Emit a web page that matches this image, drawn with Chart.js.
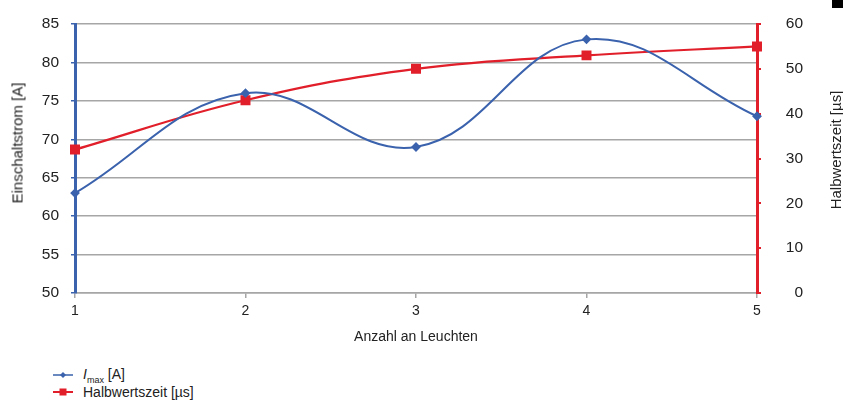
<!DOCTYPE html>
<html><head><meta charset="utf-8">
<script src="https://cdn.jsdelivr.net/npm/chart.js@4"></script>
<style>
body{margin:0;background:#fff;font-family:"Liberation Sans",Arial,sans-serif;color:#222;}
#wrap{position:relative;width:843px;height:401px;}
#cbox{position:absolute;left:0;top:0;width:843px;height:350px;}
.vt{position:absolute;transform:translate(-50%,-50%) rotate(-90deg);white-space:nowrap;font-size:15px;}
#blk{position:absolute;left:832px;top:0;width:11px;height:8px;background:#000;}
.leg{position:absolute;left:53px;font-size:14px;display:flex;align-items:center;white-space:nowrap;}
.leg svg{margin-right:10px;}
</style></head><body>
<div id="wrap">
<div id="cbox"><canvas id="c"></canvas></div>
<div class="vt" style="left:17px;top:143px">Einschaltstrom [A]</div>
<div class="vt" style="left:835px;top:150px">Halbwertszeit [µs]</div>
<div id="blk"></div>
<div class="leg" style="top:366px"><svg width="20" height="10"><line x1="0" y1="5" x2="20" y2="5" stroke="#3a62ad" stroke-width="1.5"/><polygon points="10,2 13,5 10,8 7,5" fill="#3a62ad"/></svg><span><i>I</i><sub style="font-size:9px">max</sub> [A]</span></div>
<div class="leg" style="top:384px"><svg width="20" height="10"><line x1="0" y1="5" x2="20" y2="5" stroke="#e11f2b" stroke-width="2"/><rect x="6.5" y="1.5" width="7" height="7" fill="#e11f2b"/></svg><span>Halbwertszeit [µs]</span></div>
</div>
<script>
const categories = ['1','2','3','4','5'];
const imaxValues = [63, 76, 69, 83, 73];
const halbwertszeitValues = [32, 43, 50, 53, 55];
const leftTicks = [50,55,60,65,70,75,80,85];
const rightTicks = [0,10,20,30,40,50,60];

const BLUE = '#3a62ad', RED = '#e11f2b', GRID = '#a6a6a6';
const FONT = "'Liberation Sans', Arial, sans-serif";

new Chart(document.getElementById('c'), {
  type: 'line',
  data: {
    labels: categories,
    datasets: [
      {label:'Imax [A]', data: imaxValues, yAxisID:'y', borderColor: BLUE, backgroundColor: BLUE,
       borderWidth: 2, tension: 0.4, pointStyle:'rectRot', pointRadius: 3.5, pointHoverRadius:3.5},
      {label:'Halbwertszeit [µs]', data: halbwertszeitValues, yAxisID:'y2', borderColor: RED, backgroundColor: RED,
       borderWidth: 2.2, tension: 0.4, pointStyle:'rect', pointRadius: 5.5, pointHoverRadius:5.5}
    ]
  },
  options: {
    responsive: true, maintainAspectRatio: false, animation: false,
    layout: {padding: {top: 24, left: 0, right: 40, bottom: 0}},
    plugins: {legend:{display:false}, tooltip:{enabled:false}},
    scales: {
      x: {
        offset: false,
        grid: {drawOnChartArea:false, drawTicks:true, tickLength:5, tickColor: GRID, lineWidth:1.5},
        border: {color: GRID, width: 1.5},
        ticks: {color:'#222', font:{family:FONT, size:14}, padding:5, maxRotation:0},
        title: {display:true, text:'Anzahl an Leuchten', color:'#222', font:{family:FONT, size:14}, padding:{top:0,bottom:4}},
        afterFit: s => { s.height = 57; }
      },
      y: {
        position:'left', min:50, max:85,
        afterBuildTicks: s => { s.ticks = leftTicks.map(v => ({value:v})); },
        grid: {color: GRID, lineWidth:1.5, drawTicks:true, tickLength:4, tickColor: BLUE},
        border: {color: BLUE, width: 3},
        ticks: {color:'#222', font:{family:FONT, size:15.5}, padding:12},
        afterFit: s => { s.width = 75; }
      },
      y2: {
        position:'right', min:0, max:60,
        afterBuildTicks: s => { s.ticks = rightTicks.map(v => ({value:v})); },
        grid: {drawOnChartArea:false, drawTicks:true, tickLength:4, tickColor: RED, lineWidth:2},
        border: {color: RED, width: 3},
        ticks: {color:'#222', font:{family:FONT, size:15.5}, padding:10, crossAlign:'far'},
        afterFit: s => { s.width = 46; }
      }
    }
  }
});
</script>
</body></html>
